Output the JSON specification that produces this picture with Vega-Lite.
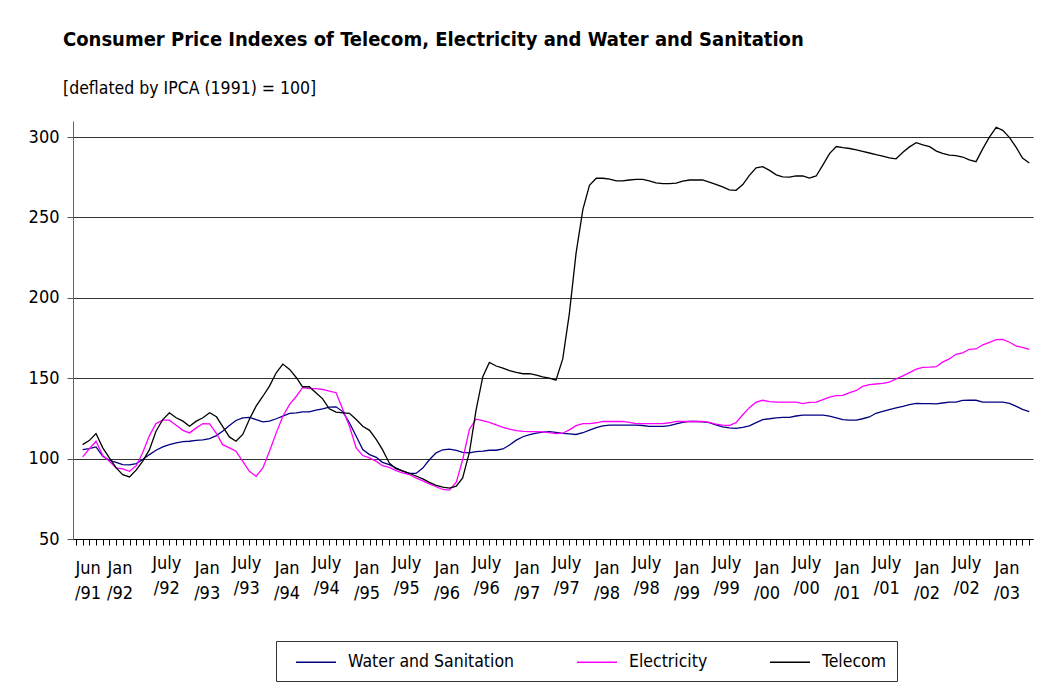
{
"$schema": "https://vega.github.io/schema/vega-lite/v6.json",
"width": 960, "height": 418,
"autosize": {"type": "none"},
"padding": {"left": 73, "top": 121, "right": 7, "bottom": 145},
"background": "white",
"config": {"view": {"stroke": null}, "font": "DejaVu Sans Condensed, sans-serif"},
"title": {"text": "Consumer Price Indexes of Telecom, Electricity and Water and Sanitation", "subtitle": "[deflated by IPCA (1991) = 100]", "anchor": "start", "frame": "group", "dx": -10, "offset": 24, "fontSize": 20, "fontWeight": "bold", "font": "DejaVu Sans Condensed, sans-serif", "color": "black", "subtitleFont": "DejaVu Sans Condensed, sans-serif", "subtitleFontSize": 17.5, "subtitleColor": "black", "subtitlePadding": 30},
"data": {"values": [
{"date":"1991-06-01","Water and Sanitation":105.6,"Electricity":101.1,"Telecom":108.7},
{"date":"1991-07-01","Water and Sanitation":106.2,"Electricity":106,"Telecom":111.2},
{"date":"1991-08-01","Water and Sanitation":107.3,"Electricity":110.8,"Telecom":115.6},
{"date":"1991-09-01","Water and Sanitation":101.4,"Electricity":101.9,"Telecom":106.7},
{"date":"1991-10-01","Water and Sanitation":98.9,"Electricity":98.3,"Telecom":100.4},
{"date":"1991-11-01","Water and Sanitation":97.7,"Electricity":94.2,"Telecom":94.2},
{"date":"1991-12-01","Water and Sanitation":96.3,"Electricity":93.6,"Telecom":90},
{"date":"1992-01-01","Water and Sanitation":96.1,"Electricity":92.1,"Telecom":88.6},
{"date":"1992-02-01","Water and Sanitation":96.9,"Electricity":95.6,"Telecom":93},
{"date":"1992-03-01","Water and Sanitation":99.4,"Electricity":103.6,"Telecom":98.3},
{"date":"1992-04-01","Water and Sanitation":102.5,"Electricity":114.3,"Telecom":105.6},
{"date":"1992-05-01","Water and Sanitation":105.2,"Electricity":121.8,"Telecom":117},
{"date":"1992-06-01","Water and Sanitation":107.3,"Electricity":123.9,"Telecom":124.3},
{"date":"1992-07-01","Water and Sanitation":108.7,"Electricity":123.9,"Telecom":128.5},
{"date":"1992-08-01","Water and Sanitation":109.8,"Electricity":120.8,"Telecom":125.4},
{"date":"1992-09-01","Water and Sanitation":110.6,"Electricity":117.6,"Telecom":123.3},
{"date":"1992-10-01","Water and Sanitation":110.8,"Electricity":116,"Telecom":120.1},
{"date":"1992-11-01","Water and Sanitation":111.4,"Electricity":119.1,"Telecom":123.3},
{"date":"1992-12-01","Water and Sanitation":111.7,"Electricity":121.8,"Telecom":125.4},
{"date":"1993-01-01","Water and Sanitation":112.5,"Electricity":121.6,"Telecom":128.5},
{"date":"1993-02-01","Water and Sanitation":114.3,"Electricity":115.6,"Telecom":126},
{"date":"1993-03-01","Water and Sanitation":117,"Electricity":108.7,"Telecom":120.1},
{"date":"1993-04-01","Water and Sanitation":120.6,"Electricity":106.7,"Telecom":113.5},
{"date":"1993-05-01","Water and Sanitation":123.7,"Electricity":104.6,"Telecom":110.8},
{"date":"1993-06-01","Water and Sanitation":125.4,"Electricity":98.3,"Telecom":115},
{"date":"1993-07-01","Water and Sanitation":125.6,"Electricity":92.1,"Telecom":124.3},
{"date":"1993-08-01","Water and Sanitation":124.3,"Electricity":89,"Telecom":132.6},
{"date":"1993-09-01","Water and Sanitation":122.9,"Electricity":94.2,"Telecom":138.8},
{"date":"1993-10-01","Water and Sanitation":123.3,"Electricity":104.6,"Telecom":145.1},
{"date":"1993-11-01","Water and Sanitation":124.8,"Electricity":116,"Telecom":153.4},
{"date":"1993-12-01","Water and Sanitation":126.4,"Electricity":126.4,"Telecom":158.8},
{"date":"1994-01-01","Water and Sanitation":128.1,"Electricity":133.7,"Telecom":155.5},
{"date":"1994-02-01","Water and Sanitation":128.5,"Electricity":138.8,"Telecom":150.3},
{"date":"1994-03-01","Water and Sanitation":129.1,"Electricity":144.1,"Telecom":144.7},
{"date":"1994-04-01","Water and Sanitation":129.1,"Electricity":143.6,"Telecom":144.7},
{"date":"1994-05-01","Water and Sanitation":130.1,"Electricity":143.5,"Telecom":141},
{"date":"1994-06-01","Water and Sanitation":131,"Electricity":143,"Telecom":137.2},
{"date":"1994-07-01","Water and Sanitation":132,"Electricity":142,"Telecom":131},
{"date":"1994-08-01","Water and Sanitation":132.2,"Electricity":141,"Telecom":128.9},
{"date":"1994-09-01","Water and Sanitation":129.1,"Electricity":130.5,"Telecom":128.5},
{"date":"1994-10-01","Water and Sanitation":122.3,"Electricity":120.1,"Telecom":128.2},
{"date":"1994-11-01","Water and Sanitation":113.9,"Electricity":106.7,"Telecom":124.3},
{"date":"1994-12-01","Water and Sanitation":105.6,"Electricity":101.9,"Telecom":120.1},
{"date":"1995-01-01","Water and Sanitation":102.5,"Electricity":100.4,"Telecom":117.6},
{"date":"1995-02-01","Water and Sanitation":100.8,"Electricity":98.3,"Telecom":111.8},
{"date":"1995-03-01","Water and Sanitation":97.7,"Electricity":95.6,"Telecom":105.6},
{"date":"1995-04-01","Water and Sanitation":96.3,"Electricity":94.6,"Telecom":97.3},
{"date":"1995-05-01","Water and Sanitation":94.2,"Electricity":92.5,"Telecom":93.7},
{"date":"1995-06-01","Water and Sanitation":92.2,"Electricity":91.2,"Telecom":92.4},
{"date":"1995-07-01","Water and Sanitation":90.8,"Electricity":90.1,"Telecom":90.9},
{"date":"1995-08-01","Water and Sanitation":90.8,"Electricity":88,"Telecom":89.2},
{"date":"1995-09-01","Water and Sanitation":94.1,"Electricity":86.2,"Telecom":87.4},
{"date":"1995-10-01","Water and Sanitation":99.3,"Electricity":84.3,"Telecom":85.2},
{"date":"1995-11-01","Water and Sanitation":103.6,"Electricity":82.5,"Telecom":83.4},
{"date":"1995-12-01","Water and Sanitation":105.5,"Electricity":80.8,"Telecom":82.3},
{"date":"1996-01-01","Water and Sanitation":105.9,"Electricity":80.4,"Telecom":81.7},
{"date":"1996-02-01","Water and Sanitation":105.1,"Electricity":85.3,"Telecom":82.9},
{"date":"1996-03-01","Water and Sanitation":103.9,"Electricity":99.3,"Telecom":88},
{"date":"1996-04-01","Water and Sanitation":103.6,"Electricity":118.3,"Telecom":104},
{"date":"1996-05-01","Water and Sanitation":104.4,"Electricity":124.5,"Telecom":130},
{"date":"1996-06-01","Water and Sanitation":104.7,"Electricity":123.6,"Telecom":151},
{"date":"1996-07-01","Water and Sanitation":105.2,"Electricity":122.6,"Telecom":159.8},
{"date":"1996-08-01","Water and Sanitation":105.2,"Electricity":121,"Telecom":157.6},
{"date":"1996-09-01","Water and Sanitation":106,"Electricity":119.5,"Telecom":156.3},
{"date":"1996-10-01","Water and Sanitation":108.5,"Electricity":118.3,"Telecom":154.7},
{"date":"1996-11-01","Water and Sanitation":111.5,"Electricity":117.4,"Telecom":153.6},
{"date":"1996-12-01","Water and Sanitation":113.6,"Electricity":117,"Telecom":152.8},
{"date":"1997-01-01","Water and Sanitation":114.9,"Electricity":116.8,"Telecom":152.8},
{"date":"1997-02-01","Water and Sanitation":115.9,"Electricity":116.8,"Telecom":152},
{"date":"1997-03-01","Water and Sanitation":116.5,"Electricity":116.6,"Telecom":150.8},
{"date":"1997-04-01","Water and Sanitation":116.8,"Electricity":116.2,"Telecom":150},
{"date":"1997-05-01","Water and Sanitation":116.3,"Electricity":115.5,"Telecom":148.8},
{"date":"1997-06-01","Water and Sanitation":115.7,"Electricity":115.8,"Telecom":162},
{"date":"1997-07-01","Water and Sanitation":115.4,"Electricity":117.9,"Telecom":190},
{"date":"1997-08-01","Water and Sanitation":115,"Electricity":120.5,"Telecom":228},
{"date":"1997-09-01","Water and Sanitation":116.1,"Electricity":121.8,"Telecom":255},
{"date":"1997-10-01","Water and Sanitation":117.7,"Electricity":121.8,"Telecom":270},
{"date":"1997-11-01","Water and Sanitation":119.3,"Electricity":122.3,"Telecom":274.4},
{"date":"1997-12-01","Water and Sanitation":120.4,"Electricity":123.1,"Telecom":274.4},
{"date":"1998-01-01","Water and Sanitation":120.8,"Electricity":123.1,"Telecom":273.8},
{"date":"1998-02-01","Water and Sanitation":120.8,"Electricity":123.1,"Telecom":272.8},
{"date":"1998-03-01","Water and Sanitation":120.8,"Electricity":123.1,"Telecom":272.7},
{"date":"1998-04-01","Water and Sanitation":120.8,"Electricity":122.5,"Telecom":273.3},
{"date":"1998-05-01","Water and Sanitation":120.8,"Electricity":121.8,"Telecom":273.7},
{"date":"1998-06-01","Water and Sanitation":120.6,"Electricity":121.8,"Telecom":273.7},
{"date":"1998-07-01","Water and Sanitation":120.1,"Electricity":121.8,"Telecom":272.7},
{"date":"1998-08-01","Water and Sanitation":120.1,"Electricity":121.8,"Telecom":271.5},
{"date":"1998-09-01","Water and Sanitation":120.1,"Electricity":121.8,"Telecom":271},
{"date":"1998-10-01","Water and Sanitation":120.5,"Electricity":122.3,"Telecom":271},
{"date":"1998-11-01","Water and Sanitation":121.6,"Electricity":123.1,"Telecom":271.4},
{"date":"1998-12-01","Water and Sanitation":122.6,"Electricity":123.1,"Telecom":272.6},
{"date":"1999-01-01","Water and Sanitation":123.1,"Electricity":123.1,"Telecom":273.3},
{"date":"1999-02-01","Water and Sanitation":123.1,"Electricity":123.1,"Telecom":273.3},
{"date":"1999-03-01","Water and Sanitation":122.9,"Electricity":123.1,"Telecom":273.3},
{"date":"1999-04-01","Water and Sanitation":122.4,"Electricity":122.6,"Telecom":272},
{"date":"1999-05-01","Water and Sanitation":121,"Electricity":121.5,"Telecom":270.6},
{"date":"1999-06-01","Water and Sanitation":119.8,"Electricity":120.8,"Telecom":269},
{"date":"1999-07-01","Water and Sanitation":119.1,"Electricity":120.6,"Telecom":267.2},
{"date":"1999-08-01","Water and Sanitation":118.8,"Electricity":122.4,"Telecom":266.9},
{"date":"1999-09-01","Water and Sanitation":119.4,"Electricity":127.3,"Telecom":270.5},
{"date":"1999-10-01","Water and Sanitation":120.4,"Electricity":131.7,"Telecom":276.2},
{"date":"1999-11-01","Water and Sanitation":122.4,"Electricity":135.1,"Telecom":280.9},
{"date":"1999-12-01","Water and Sanitation":124.3,"Electricity":136.3,"Telecom":281.6},
{"date":"2000-01-01","Water and Sanitation":124.8,"Electricity":135.5,"Telecom":279.3},
{"date":"2000-02-01","Water and Sanitation":125.4,"Electricity":135.1,"Telecom":276.5},
{"date":"2000-03-01","Water and Sanitation":125.7,"Electricity":135.1,"Telecom":275.3},
{"date":"2000-04-01","Water and Sanitation":125.7,"Electricity":135.1,"Telecom":275.1},
{"date":"2000-05-01","Water and Sanitation":126.5,"Electricity":135.1,"Telecom":275.9},
{"date":"2000-06-01","Water and Sanitation":127,"Electricity":134.2,"Telecom":275.8},
{"date":"2000-07-01","Water and Sanitation":127,"Electricity":135,"Telecom":274.5},
{"date":"2000-08-01","Water and Sanitation":127,"Electricity":135.1,"Telecom":275.8},
{"date":"2000-09-01","Water and Sanitation":127,"Electricity":136.7,"Telecom":282.7},
{"date":"2000-10-01","Water and Sanitation":126.4,"Electricity":138.3,"Telecom":289.7},
{"date":"2000-11-01","Water and Sanitation":125.3,"Electricity":139.2,"Telecom":294.1},
{"date":"2000-12-01","Water and Sanitation":124.2,"Electricity":139.3,"Telecom":293.4},
{"date":"2001-01-01","Water and Sanitation":123.9,"Electricity":141.1,"Telecom":292.9},
{"date":"2001-02-01","Water and Sanitation":123.9,"Electricity":142.4,"Telecom":292},
{"date":"2001-03-01","Water and Sanitation":124.8,"Electricity":144.9,"Telecom":291.1},
{"date":"2001-04-01","Water and Sanitation":125.9,"Electricity":146,"Telecom":290.1},
{"date":"2001-05-01","Water and Sanitation":128.2,"Electricity":146.4,"Telecom":289.1},
{"date":"2001-06-01","Water and Sanitation":129.4,"Electricity":146.8,"Telecom":288.2},
{"date":"2001-07-01","Water and Sanitation":130.4,"Electricity":147.5,"Telecom":287.1},
{"date":"2001-08-01","Water and Sanitation":131.5,"Electricity":149.6,"Telecom":286.5},
{"date":"2001-09-01","Water and Sanitation":132.5,"Electricity":151.5,"Telecom":290.5},
{"date":"2001-10-01","Water and Sanitation":133.6,"Electricity":153.5,"Telecom":293.9},
{"date":"2001-11-01","Water and Sanitation":134.4,"Electricity":155.7,"Telecom":296.5},
{"date":"2001-12-01","Water and Sanitation":134.2,"Electricity":156.8,"Telecom":295.2},
{"date":"2002-01-01","Water and Sanitation":134.2,"Electricity":156.9,"Telecom":294},
{"date":"2002-02-01","Water and Sanitation":134.1,"Electricity":157.2,"Telecom":291.3},
{"date":"2002-03-01","Water and Sanitation":134.6,"Electricity":160,"Telecom":289.8},
{"date":"2002-04-01","Water and Sanitation":135.1,"Electricity":162,"Telecom":288.8},
{"date":"2002-05-01","Water and Sanitation":135.1,"Electricity":164.9,"Telecom":288.5},
{"date":"2002-06-01","Water and Sanitation":136.2,"Electricity":165.8,"Telecom":287.6},
{"date":"2002-07-01","Water and Sanitation":136.3,"Electricity":168,"Telecom":285.8},
{"date":"2002-08-01","Water and Sanitation":136.3,"Electricity":168.2,"Telecom":284.7},
{"date":"2002-09-01","Water and Sanitation":135.2,"Electricity":170.8,"Telecom":292.8},
{"date":"2002-10-01","Water and Sanitation":135.1,"Electricity":172.3,"Telecom":300},
{"date":"2002-11-01","Water and Sanitation":135.1,"Electricity":174,"Telecom":306.1},
{"date":"2002-12-01","Water and Sanitation":135.1,"Electricity":174.2,"Telecom":304.2},
{"date":"2003-01-01","Water and Sanitation":134.4,"Electricity":172.4,"Telecom":299.7},
{"date":"2003-02-01","Water and Sanitation":132.5,"Electricity":170,"Telecom":293.4},
{"date":"2003-03-01","Water and Sanitation":130.6,"Electricity":169.2,"Telecom":286.9},
{"date":"2003-04-01","Water and Sanitation":129.3,"Electricity":168,"Telecom":283.9}
]},
"transform": [{"fold": ["Water and Sanitation", "Electricity", "Telecom"], "as": ["series", "value"]}],
"mark": {"type": "line", "strokeWidth": 1.3},
"encoding": {
  "x": {"field": "date", "type": "temporal",
    "scale": {"type": "utc", "domain": [{"year": 1991, "month": 4, "date": 18, "utc": true}, {"year": 2003, "month": 4, "date": 18, "utc": true}]},
    "axis": {"title": null, "grid": false, "tickCount": {"interval": "month", "step": 1}, "tickSize": 6, "tickColor": "black", "domainColor": "black",
      "labelExpr": "(utcyear(datum.value)==1991 && utcmonth(datum.value)==5) ? ['Jun', '/91'] : utcmonth(datum.value)==0 ? ['Jan', '/' + utcFormat(datum.value, '%y')] : (utcmonth(datum.value)==6 && utcyear(datum.value)>1991) ? ['July', '/' + utcFormat(datum.value, '%y')] : ''",
      "labelOverlap": false, "labelFlush": false, "labelBound": false, "labelFontSize": 18, "labelLineHeight": 25, "labelColor": "black",
      "labelPadding": {"condition": {"test": "utcmonth(datum.value)==6", "value": 9}, "value": 14},
      "labelOffset": {"condition": [{"test": "utcyear(datum.value)==1991", "value": 5}, {"test": "utcyear(datum.value)==1992 && utcmonth(datum.value)==0", "value": -10}], "value": -3}}},
  "y": {"field": "value", "type": "quantitative",
    "scale": {"domain": [50, 310], "nice": false, "zero": false},
    "axis": {"title": null, "values": [50, 100, 150, 200, 250, 300], "grid": true, "gridColor": "#333", "gridWidth": 1, "tickSize": 6, "tickColor": "#555", "domainColor": "#666", "labelFontSize": 18, "labelPadding": 8, "labelColor": "black"}},
  "color": {"field": "series", "type": "nominal",
    "scale": {"domain": ["Water and Sanitation", "Electricity", "Telecom"], "range": ["#000080", "#ff00ff", "#000000"]},
    "legend": {"orient": "none", "legendX": 203, "legendY": 520, "direction": "horizontal", "title": null, "strokeColor": "#333", "padding": 10, "symbolType": "M-2,0H2", "symbolSize": 400, "symbolStrokeWidth": 1.5, "symbolOffset": 19, "labelFontSize": 17.5, "labelOffset": 21, "columnPadding": 52, "labelColor": "black", "labelLimit": 400}}
}
}
